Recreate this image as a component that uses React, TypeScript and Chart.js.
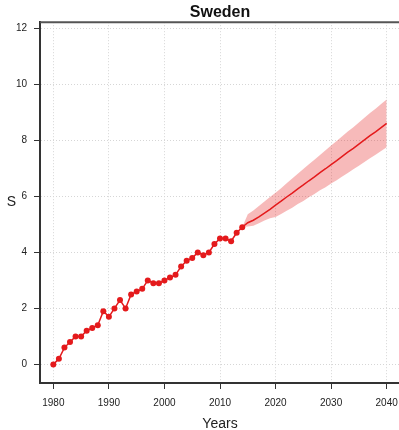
import { useEffect, useRef } from 'react';
import { Chart, registerables } from 'chart.js';

Chart.register(...registerables);

// Observed series
const historyYears = [
  1980, 1981, 1982, 1983, 1984, 1985, 1986, 1987, 1988, 1989,
  1990, 1991, 1992, 1993, 1994, 1995, 1996, 1997, 1998, 1999,
  2000, 2001, 2002, 2003, 2004, 2005, 2006, 2007, 2008, 2009,
  2010, 2011, 2012, 2013, 2014,
];
const historyValues = [
  0.0, 0.2, 0.6, 0.8, 1.0, 1.0, 1.2, 1.3, 1.4, 1.9,
  1.7, 2.0, 2.3, 2.0, 2.5, 2.6, 2.7, 3.0, 2.9, 2.9,
  3.0, 3.1, 3.2, 3.5, 3.7, 3.8, 4.0, 3.9, 4.0, 4.3,
  4.5, 4.5, 4.4, 4.7, 4.9,
];

// Projection with its interval
const forecastYears = [
  2014, 2015, 2016, 2017, 2018, 2019, 2020, 2021, 2022, 2023,
  2024, 2025, 2026, 2027, 2028, 2029, 2030, 2031, 2032, 2033,
  2034, 2035, 2036, 2037, 2038, 2039, 2040,
];
const forecastMean = [
  4.90, 5.06, 5.15, 5.27, 5.40, 5.54, 5.69, 5.83, 5.98, 6.12,
  6.27, 6.41, 6.56, 6.70, 6.85, 6.99, 7.14, 7.28, 7.43, 7.58,
  7.72, 7.87, 8.02, 8.17, 8.31, 8.46, 8.61,
];
const forecastLower = [
  4.90, 4.93, 4.95, 5.04, 5.14, 5.22, 5.27, 5.37, 5.49, 5.60,
  5.73, 5.84, 5.97, 6.09, 6.22, 6.33, 6.46, 6.58, 6.71, 6.84,
  6.97, 7.10, 7.23, 7.36, 7.49, 7.62, 7.76,
];
const forecastUpper = [
  4.90, 5.36, 5.50, 5.66, 5.82, 5.98, 6.13, 6.29, 6.47, 6.64,
  6.81, 6.98, 7.15, 7.31, 7.48, 7.65, 7.82, 7.98, 8.15, 8.32,
  8.47, 8.64, 8.81, 8.98, 9.13, 9.30, 9.46,
];

const xTicks = [1980, 1990, 2000, 2010, 2020, 2030, 2040];
const yTicks = [0, 2, 4, 6, 8, 10, 12];

const FONT = '"Liberation Sans", Arial, Helvetica, sans-serif';
const RED = 'rgb(228, 26, 28)';
const BAND = 'rgba(228, 26, 28, 0.3)';

const pts = (xs: number[], ys: number[]) => xs.map((x, i) => ({ x, y: ys[i] }));

// Top frame line and the upright y-axis label
const framePlugin = {
  id: 'frameAndYLabel',
  afterDraw(chart: any) {
    const { ctx, chartArea } = chart;
    const { left, right, top, bottom } = chartArea;
    ctx.save();
    ctx.strokeStyle = '#555';
    ctx.lineWidth = 2;
    ctx.beginPath();
    ctx.moveTo(left, top);
    ctx.lineTo(right, top);
    ctx.stroke();
    ctx.fillStyle = '#222';
    ctx.font = `14px ${FONT}`;
    ctx.textAlign = 'center';
    ctx.textBaseline = 'middle';
    ctx.fillText('S', 11.5, (top + bottom) / 2);
    ctx.restore();
  },
};

export default function App() {
  const canvasRef = useRef<HTMLCanvasElement | null>(null);

  useEffect(() => {
    const canvas = canvasRef.current;
    if (!canvas) return;

    const gridCommon = {
      color: '#d6d6d6',
      lineWidth: 1,
      tickColor: '#333',
      tickLength: 6,
      tickWidth: 1,
    };
    const borderCommon = { display: true, color: '#333', width: 2, dash: [1, 2] };

    const chart = new Chart(canvas, {
      type: 'line',
      data: {
        datasets: [
          {
            label: 'observed',
            data: pts(historyYears, historyValues),
            borderColor: RED,
            backgroundColor: RED,
            borderWidth: 1.5,
            pointRadius: 3,
            pointBorderWidth: 0,
            pointBackgroundColor: RED,
            fill: false,
          },
          {
            label: 'forecast',
            data: pts(forecastYears, forecastMean),
            borderColor: RED,
            borderWidth: 1.5,
            pointRadius: 0,
            fill: false,
          },
          {
            label: 'lower',
            data: pts(forecastYears, forecastLower),
            borderWidth: 0,
            borderColor: 'rgba(0,0,0,0)',
            pointRadius: 0,
            fill: false,
          },
          {
            label: 'upper',
            data: pts(forecastYears, forecastUpper),
            borderWidth: 0,
            borderColor: 'rgba(0,0,0,0)',
            backgroundColor: BAND,
            pointRadius: 0,
            fill: '-1',
          },
        ],
      },
      options: {
        animation: false,
        responsive: false,
        devicePixelRatio: 1,
        layout: { padding: { left: 0, right: 20, top: 0, bottom: 0 } },
        plugins: {
          legend: { display: false },
          tooltip: { enabled: false },
          title: {
            display: true,
            text: 'Sweden',
            fullSize: false,
            color: '#111',
            font: { family: FONT, size: 16, weight: 'bold' },
            padding: { top: 3, bottom: 0 },
          },
        },
        scales: {
          x: {
            type: 'linear',
            min: 1977.6,
            max: 2042.4,
            afterBuildTicks: (s: any) => {
              s.ticks = xTicks.map((v) => ({ value: v }));
            },
            afterFit: (s: any) => {
              s.height = 47;
            },
            ticks: {
              color: '#222',
              font: { family: FONT, size: 10 },
              padding: 8,
              maxRotation: 0,
              callback: (v: any) => String(v),
            },
            grid: gridCommon,
            border: borderCommon,
            title: {
              display: true,
              text: 'Years',
              color: '#222',
              font: { family: FONT, size: 14 },
              padding: { top: 0, bottom: -3 },
            },
          },
          y: {
            type: 'linear',
            min: -0.665,
            max: 12.225,
            afterBuildTicks: (s: any) => {
              s.ticks = yTicks.map((v) => ({ value: v }));
            },
            afterFit: (s: any) => {
              s.width = 40;
            },
            ticks: {
              color: '#222',
              font: { family: FONT, size: 10 },
              padding: 7,
              callback: (v: any) => String(v),
            },
            grid: gridCommon,
            border: borderCommon,
          },
        },
      },
      plugins: [framePlugin],
    } as any);

    return () => chart.destroy();
  }, []);

  return (
    <div
      style={{
        position: 'fixed',
        left: 0,
        top: 0,
        width: 399,
        height: 430,
        overflow: 'hidden',
        background: '#fff',
      }}
    >
      <canvas ref={canvasRef} width={420} height={430} style={{ display: 'block' }} />
    </div>
  );
}
